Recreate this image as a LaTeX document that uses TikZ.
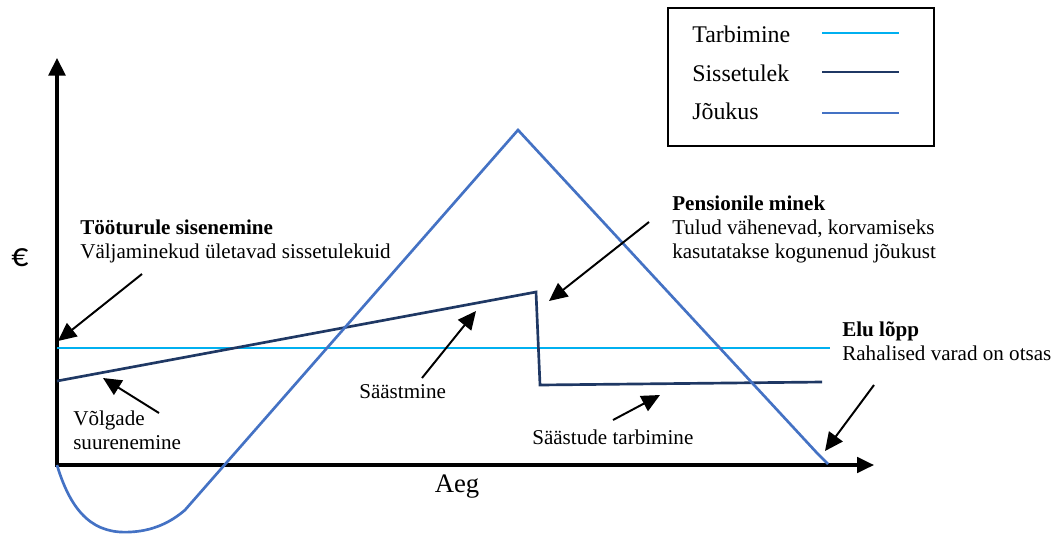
\documentclass[tikz,border=0pt]{standalone}
\usepackage{fontspec}
\setmainfont{Liberation Serif}
\newfontfamily\eurofont{Carlito}
\usetikzlibrary{arrows.meta}
\definecolor{tarbcol}{HTML}{00B0F0}
\definecolor{tulucol}{HTML}{1F3864}
\definecolor{joucol}{HTML}{4472C4}
\tikzset{
  axis/.style={line width=2.2pt, {Triangle[length=12.5pt,width=12pt]}-{Triangle[length=12pt,width=11pt]}},
  pointer/.style={line width=1.4pt, -{Triangle[length=13pt,width=12pt]}},
  note/.style={anchor=base west, align=left, inner sep=0pt, font=\fontsize{15}{16.8}\selectfont},
  legendtext/.style={anchor=west, inner sep=0pt, font=\fontsize{17}{20}\selectfont},
  series/.style={line width=1.9pt},
}
\begin{document}
\begin{tikzpicture}[x=0.025cm, y=-0.025cm]
  \useasboundingbox (0,0) rectangle (1056,534);
  \coordinate (o) at (57,465);
  \coordinate (ytip) at (57,58);
  \coordinate (xtip) at (874,465);
  \draw[axis] (ytip) -- (o) -- (xtip);
  \node[font=\fontsize{19}{22}\selectfont, anchor=base] (aeg) at (457,492) {Aeg};
  \node[font=\eurofont\fontsize{24}{28}\selectfont] (euro) at (20,258) {€};

  \begin{scope}[series]
    \draw[tarbcol] (57,348) -- (830,348);
    \draw[tulucol, line join=miter] (57,381) -- (536,292) -- (540,385) -- (822,382);
    \draw[joucol] (57,465) .. controls (72,515) and (95,534) .. (130,532)
      .. controls (152,531) and (170,523) .. (185,510) -- (518,130) -- (817,453) -- (828,464);
  \end{scope}

  \draw[line width=1.1pt] (668,8) rectangle (934,146);
  \node[legendtext] (ltarb) at (692,34) {Tarbimine};
  \node[legendtext] (ltulu) at (692,73) {Sissetulek};
  \node[legendtext] (ljou) at (692,111) {Jõukus};
  \draw[series, tarbcol] (822,33) -- (899,33);
  \draw[series, tulucol] (822,72) -- (899,72);
  \draw[series, joucol] (822,113) -- (899,113);

  \node[note] (tooturg) at (80,258) {\textbf{Tööturule sisenemine}\\Väljaminekud ületavad sissetulekuid};
  \node[note] (pension) at (672,258) {\textbf{Pensionile minek}\\Tulud vähenevad, korvamiseks\\kasutatakse kogunenud jõukust};
  \node[note] (elulopp) at (842,360) {\textbf{Elu lõpp}\\Rahalised varad on otsas};
  \node[note] (saastmine) at (359,398) {Säästmine};
  \node[note] (volg) at (73,449) {Võlgade\\suurenemine};
  \node[note] (saasttarb) at (532,444) {Säästude tarbimine};

  \coordinate (a1) at (142,274); \coordinate (b1) at (58,341);
  \coordinate (a2) at (649,222); \coordinate (b2) at (549,301);
  \coordinate (a3) at (422,378); \coordinate (b3) at (476,311);
  \coordinate (a4) at (159,413); \coordinate (b4) at (103,378);
  \coordinate (a5) at (613,420); \coordinate (b5) at (660,395);
  \coordinate (a6) at (874,385); \coordinate (b6) at (825,451);
  \begin{scope}[pointer]
    \draw (a1) -- (b1);
    \draw (a2) -- (b2);
    \draw (a3) -- (b3);
    \draw (a4) -- (b4);
    \draw (a5) -- (b5);
    \draw (a6) -- (b6);
  \end{scope}
\end{tikzpicture}
\end{document}
